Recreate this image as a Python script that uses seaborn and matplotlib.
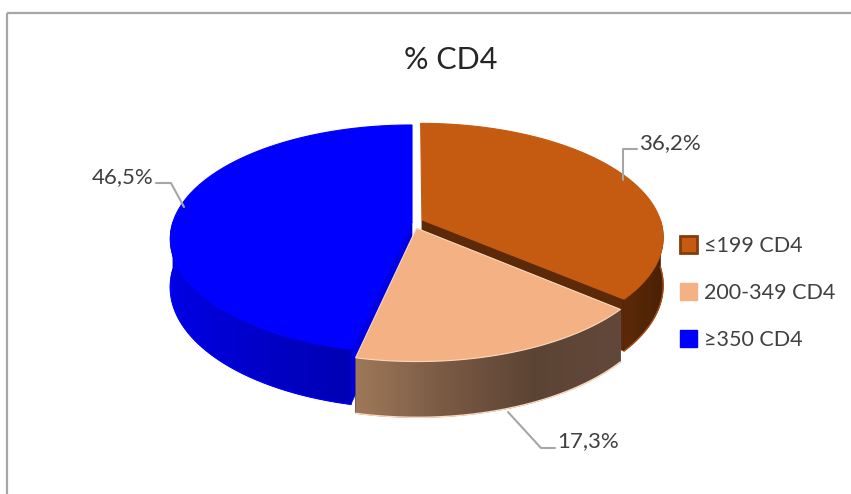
import numpy as np
import matplotlib
matplotlib.use("Agg")
import matplotlib.pyplot as plt
import seaborn as sns
from matplotlib.patches import Polygon, Rectangle, Patch
from matplotlib.colors import LinearSegmentedColormap

sns.set_theme(style="white")
plt.rcParams['font.family'] = ['Lato', 'DejaVu Sans']

# data
categories = ["≤199 CD4", "200-349 CD4", "≥350 CD4"]
values = [36.2, 17.3, 46.5]
title = "% CD4"

# styles
top_colors = ["#c55a11", "#f4b183", "#0000ff"]
side_colors = [["#5c2a08", "#4a2104"],
               ["#9e7859", "#7a5a44", "#5c4434", "#62483a"],
               ["#0000e4", "#0000c8", "#0000b4"]]
edge_colors = ["#c55a11", "#fcd9bd", "#0000ff"]
rim_colors = ["#a4501a", "#fcd9bd", "#0000ff"]
explode = [0.046, 0.058, 0.0]

# simple perspective: circle (u, v) -> screen, v > 0 is the far side
cx, cy, R, B, k, D = 412, 222, 239, -78.4, 0.149, 47


def proj(u, v, drop=0.0):
    w = 1 + k * v
    return np.column_stack([cx + R * u / w, (cy + B * v + drop) / w])


fig = plt.figure(figsize=(8.51, 4.94), dpi=100)
ax = fig.add_axes([0, 0, 1, 1])
ax.set_xlim(0, 851)
ax.set_ylim(494, 0)
ax.axis("off")

# chart frame
ax.add_patch(Rectangle((6.5, 13.5), 900, 600, fill=False, ec="#a6a6a6", lw=1.6))

fr = np.array(values) / sum(values)
starts = np.concatenate([[0], np.cumsum(fr)[:-1]])
ends = np.cumsum(fr)

slices = []
for i in range(len(values)):
    a = 90 - 360 * starts[i]
    b = 90 - 360 * ends[i]
    mid = np.radians((a + b) / 2)
    slices.append((a, b, explode[i] * np.cos(mid), explode[i] * np.sin(mid)))


def rim(th, du, dv, drop=0.0):
    t = np.radians(np.atleast_1d(th))
    return proj(np.cos(t) + du, np.sin(t) + dv, drop)


z = 2
# draw back slices first, front slice last
for i in [2, 0, 1]:
    a, b, du, dv = slices[i]
    c0 = proj(np.array([du]), np.array([dv]))[0]
    c1 = proj(np.array([du]), np.array([dv]), D)[0]
    cmap = LinearSegmentedColormap.from_list("side%d" % i, side_colors[i])
    # radial faces that turn toward the viewer
    for th, sgn in [(b, -1), (a, 1)]:
        if np.sin(np.radians(th + sgn * 90)) < 0:
            p = rim(th, du, dv)[0]
            q = rim(th, du, dv, D)[0]
            ax.add_patch(Polygon([c0, p, q, c1], closed=True, fc=side_colors[i][0],
                                 ec=side_colors[i][0], lw=0.5, zorder=z))
            z += 1
    # outer wall, front half only, shaded left to right
    lo, hi = min(a, b), max(a, b)
    for kk in range(-2, 2):
        s0, s1 = max(lo, -180 + 360 * kk), min(hi, 360 * kk)
        if s1 <= s0:
            continue
        ths = np.linspace(s0, s1, 200)
        top = rim(ths, du, dv)
        bot = rim(ths, du, dv, D)
        wall = Polygon(np.vstack([top, bot[::-1]]), closed=True,
                       fc=side_colors[i][0], ec=side_colors[i][-1], lw=0.6, zorder=z)
        ax.add_patch(wall)
        x0, x1 = top[:, 0].min(), top[:, 0].max()
        y0, y1 = top[:, 1].min() - 2, bot[:, 1].max() + 2
        grad = np.linspace(0, 1, 256).reshape(1, -1)
        im = ax.imshow(grad, cmap=cmap, aspect="auto", extent=(x0, x1, y1, y0),
                       interpolation="bilinear", zorder=z + 1)
        im.set_clip_path(wall)
        ax.plot(bot[:, 0], bot[:, 1], color=rim_colors[i], lw=1.0, zorder=z + 2)
        z += 3
    # top face
    pts = np.vstack([[c0], rim(np.linspace(a, b, 200), du, dv)])
    ax.add_patch(Polygon(pts, closed=True, fc=top_colors[i], ec=edge_colors[i],
                         lw=0.8, zorder=z))
    z += 1

ax.set_xlim(0, 851)
ax.set_ylim(494, 0)

# title
ax.text(451, 60, title, ha="center", va="center", fontsize=22, color="#262626")

# data labels with leader lines
labels = [f"{v:.1f}%".replace(".", ",") for v in values]
lead = "#a6a6a6"
txt = "#404040"
ax.plot([623, 623, 637], [180, 149, 149], color=lead, lw=1.5, zorder=z)
ax.text(639, 143, labels[0], ha="left", va="center", fontsize=16, color=txt)
ax.plot([508, 541, 555], [412, 448, 448], color=lead, lw=1.5, zorder=z)
ax.text(557, 441, labels[1], ha="left", va="center", fontsize=16, color=txt)
ax.plot([184, 171, 156], [207, 183, 183], color=lead, lw=1.5, zorder=z)
ax.text(154, 177, labels[2], ha="right", va="center", fontsize=16, color=txt)

# legend
handles = [Patch(fc=top_colors[0], ec="#843c0c", lw=2),
           Patch(fc=top_colors[1], ec=top_colors[1]),
           Patch(fc=top_colors[2], ec=top_colors[2])]
fig.legend(handles, categories, loc="upper left", bbox_to_anchor=(680 / 851, 1 - 236 / 494),
           frameon=False, fontsize=15.5, handlelength=0.8, handleheight=0.8,
           handletextpad=0.3, labelspacing=1.25, borderaxespad=0, borderpad=0,
           labelcolor=txt)

fig.savefig("out.png", dpi=100)
